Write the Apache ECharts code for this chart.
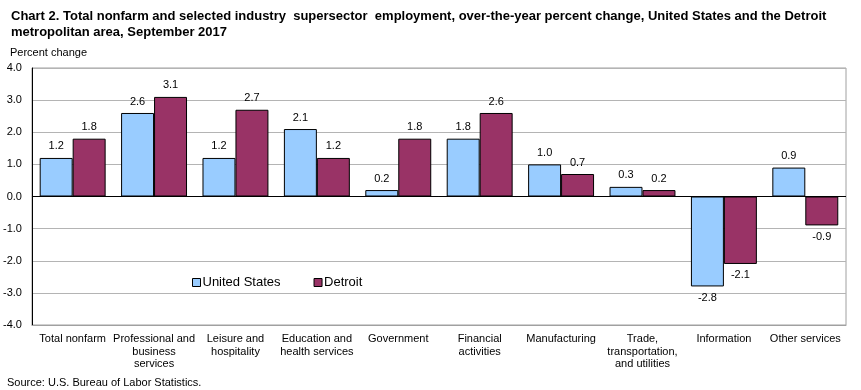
<!DOCTYPE html>
<html><head><meta charset="utf-8">
<script src="https://cdn.jsdelivr.net/npm/echarts@6/dist/echarts.min.js"></script>
<style>html,body{margin:0;padding:0;background:#fff}#c{width:861px;height:390px}</style>
</head><body><div id="c"></div>
<script>
const categories = ["Total nonfarm","Professional and\nbusiness\nservices","Leisure and\nhospitality","Education and\nhealth services","Government","Financial\nactivities","Manufacturing","Trade,\ntransportation,\nand utilities","Information","Other services"];
const usValues = [1.2, 2.6, 1.2, 2.1, 0.2, 1.8, 1.0, 0.3, -2.8, 0.9];
const detroitValues = [1.8, 3.1, 2.7, 1.2, 1.8, 2.6, 0.7, 0.2, -2.1, -0.9];
const seriesNames = ["United States", "Detroit"];

const chart = echarts.init(document.getElementById('c'));
const font = 'Arial, "Liberation Sans", sans-serif';
function lbl(p){ return p.value.toFixed(1); }
function mkSeries(name, data, color, withZero){
  const s = {
    name: name, type: 'bar', data: data.map(v => ({
      value: v,
      label: { position: v >= 0 ? 'top' : 'bottom' }
    })),
    barGap: '0%', barCategoryGap: '19%',
    itemStyle: { color: color, borderColor: '#000', borderWidth: 1 },
    label: { show: true, formatter: lbl, fontFamily: font, fontSize: 11, color: '#000', distance: 6 }
  };
  if (withZero) {
    s.markLine = { silent: true, symbol: 'none', label: {show:false},
      lineStyle: { color: '#000', width: 1, type: 'solid' }, data: [{ yAxis: 0 }] };
  }
  return s;
}
chart.setOption({
  animation: false,
  title: [
    { text: 'Chart 2. Total nonfarm and selected industry  supersector  employment, over-the-year percent change, United States and the Detroit\nmetropolitan area, September 2017',
      left: 6, top: 3, textStyle: { fontFamily: font, fontSize: 13, fontWeight: 'bold', color: '#000', lineHeight: 16 } },
    { text: 'Percent change', left: 5, top: 42, textStyle: { fontFamily: font, fontSize: 11, fontWeight: 'normal', color: '#000' } },
    { text: 'Source: U.S. Bureau of Labor Statistics.', left: 2, top: 372, textStyle: { fontFamily: font, fontSize: 11, fontWeight: 'normal', color: '#000' } }
  ],
  legend: {
    left: 187, top: 271, itemWidth: 8, itemHeight: 8, itemGap: 33,
    textStyle: { fontFamily: font, fontSize: 13, color: '#000', padding: [0,0,0,-3] },
    data: seriesNames.map(n => ({ name: n, icon: 'rect', itemStyle: { borderColor: '#000', borderWidth: 1 } }))
  },
  grid: { left: 31, right: 15, top: 68, bottom: 65, show: true, borderColor: '#a0a0a0', borderWidth: 1 },
  xAxis: {
    type: 'category', data: categories,
    axisLine: { onZero: false, lineStyle: { color: '#a0a0a0' } },
    axisTick: { show: false },
    axisLabel: { interval: 0, fontFamily: font, fontSize: 11, color: '#000', lineHeight: 12.5, margin: 8 }
  },
  yAxis: {
    type: 'value', min: -4, max: 4, interval: 1,
    axisLine: { show: true, lineStyle: { color: '#000' } },
    axisTick: { show: false },
    splitLine: { lineStyle: { color: '#b4b4b4' } },
    axisLabel: { formatter: v => v.toFixed(1), fontFamily: font, fontSize: 11, color: '#000', margin: 10 }
  },
  series: [
    mkSeries(seriesNames[0], usValues, '#99CCFF', false),
    mkSeries(seriesNames[1], detroitValues, '#993366', true)
  ]
});
</script></body></html>
